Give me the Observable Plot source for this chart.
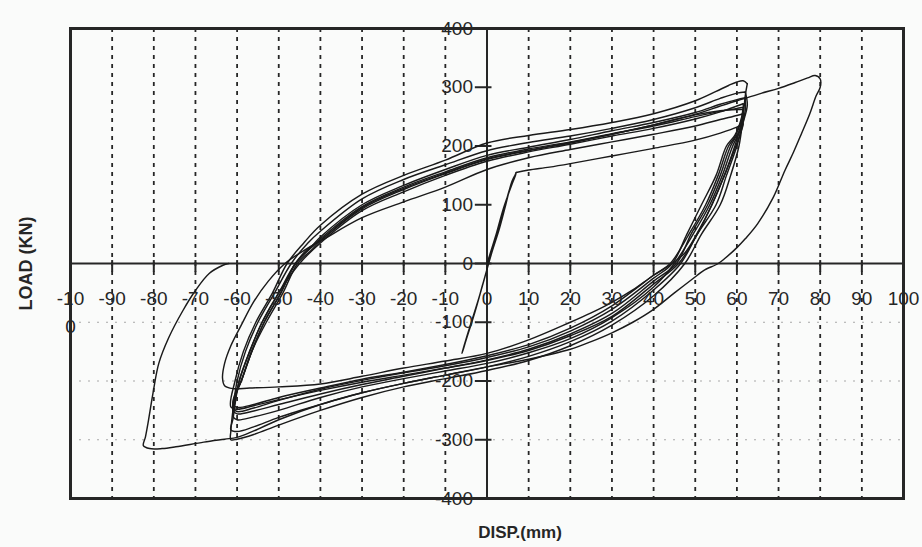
<!DOCTYPE html>
<html><head><meta charset="utf-8">
<script src="https://cdn.jsdelivr.net/npm/d3@7"></script>
<script src="https://cdn.jsdelivr.net/npm/@observablehq/plot@0.6"></script>
<style>
body{margin:0;background:#fafbfa;}
#chart{width:922px;height:547px;}
</style></head><body><div id="chart"></div>
<script>
// Tick values and labels
const xTicks = [-100,-90,-80,-70,-60,-50,-40,-30,-20,-10,0,10,20,30,40,50,60,70,80,90,100];
const xTickLabels = ["-10\n0","-90","-80","-70","-60","-50","-40","-30","-20","-10","0","10","20","30","40","50","60","70","80","90","100"];
const yTicks = [-400,-300,-200,-100,0,100,200,300,400];
const yTickLabels = ["-400","-300","-200","-100","0","100","200","300","400"];
const xGrid = [-90,-80,-70,-60,-50,-40,-30,-20,-10,10,20,30,40,50,60,70,80,90];
const yGrid = [-100,-200,-300];

// Hysteresis cycles [disp (mm), load (kN)]
const c0 = [[0,0],[2,45],[4,95],[6,135],[7,153],[6,140],[4.5,100],[3,60],[1,15],[-1,-35],[-3,-85],[-5,-130],[-6,-153],[-5.5,-140],[-4,-105],[-2,-60],[0,-10],[2,40],[4,90],[5.5,128],[7,155]];
const c1 = [[7,155],[10,159],[15,164],[20,170],[30,183],[40,196],[50,210],[56,222],[60,232],[61.5,238],[61,225],[59.5,195],[57,150],[54,100],[50.5,52],[47.5,18],[44.5,0],[40,-20],[35,-45],[30,-66],[25,-84],[20,-100],[10,-130],[0,-153],[-10,-166],[-20,-178],[-30,-192],[-40,-205],[-50,-210],[-57,-212],[-61,-213],[-63,-208],[-63.5,-195],[-63,-170],[-61.5,-140],[-59,-105],[-56,-65],[-52.5,-30],[-48.5,0],[-44,22],[-40,38],[-30,78],[-20,105],[-10,130],[0,160],[10,180],[20,194],[30,207],[40,220],[50,234],[56,245],[60,252],[61.5,255]];
const c2 = [[61.5,255],[61,235],[59.5,200],[57,150],[54,100],[50.5,50],[46,0],[40,-35],[30,-90],[20,-123],[10,-148],[0,-165],[-10,-178],[-20,-190],[-30,-202],[-40,-216],[-50,-232],[-56,-242],[-60,-248],[-61.5,-244],[-60.5,-200],[-58.5,-150],[-55.5,-100],[-51.5,-50],[-48,0],[-44,35],[-40,65],[-30,118],[-20,150],[-10,176],[0,205],[10,218],[20,228],[30,240],[40,255],[50,277],[55,293],[58,303],[60,309],[61.5,311],[62.5,306]];
const c3 = [[62.5,306],[62,285],[61.5,250],[60.5,200],[58.5,150],[56,100],[51.5,50],[47.5,0],[40,-55],[30,-105],[20,-140],[10,-165],[0,-182],[-10,-196],[-20,-210],[-30,-228],[-40,-250],[-50,-275],[-56,-291],[-60,-299],[-61.5,-300],[-61.5,-285],[-61,-250],[-60,-200],[-58,-150],[-55,-100],[-51,-50],[-47,0],[-43,35],[-40,55],[-30,110],[-20,143],[-10,168],[0,192],[10,206],[20,217],[30,230],[40,245],[50,265],[56,281],[60,290],[62,292]];
const c4 = [[62,292],[62.5,270],[61.5,240],[60,200],[57.5,150],[55,100],[50.5,50],[46.5,0],[40,-45],[30,-98],[20,-133],[10,-158],[0,-176],[-10,-190],[-20,-204],[-30,-220],[-40,-240],[-50,-262],[-56,-278],[-60,-286],[-61.5,-283],[-61,-265],[-60.5,-240],[-59.5,-200],[-57,-150],[-54,-100],[-50,-50],[-46,0],[-42,30],[-40,45],[-30,100],[-20,133],[-10,160],[0,184],[10,198],[20,211],[30,226],[40,240],[50,257],[56,271],[60,279],[62,282]];
const c5 = [[62,282],[62,260],[61,230],[59,200],[56.5,150],[53.5,100],[49.5,50],[45,0],[40,-40],[30,-92],[20,-128],[10,-152],[0,-170],[-10,-183],[-20,-196],[-30,-210],[-40,-228],[-50,-250],[-56,-261],[-60,-266],[-61,-260],[-60.5,-235],[-59.5,-200],[-57,-150],[-54,-100],[-50,-50],[-45,0],[-40,35],[-30,90],[-20,122],[-10,150],[0,174],[10,190],[20,203],[30,217],[40,230],[50,246],[56,258],[60,268],[61.5,272]];
const c6 = [[61.5,272],[61.5,250],[60.5,225],[58.5,200],[56,150],[53,100],[49,50],[45.5,0],[40,-30],[30,-85],[20,-120],[10,-146],[0,-164],[-10,-178],[-20,-192],[-30,-206],[-40,-222],[-50,-240],[-56,-251],[-60,-256],[-61,-250],[-60.5,-228],[-59,-200],[-56.5,-150],[-53.5,-100],[-49.5,-50],[-46,0],[-42,28],[-40,42],[-30,97],[-20,130],[-10,156],[0,180],[10,195],[20,207],[30,221],[40,234],[50,250],[56,259],[60,264],[61.5,266]];
const c7 = [[61.5,266],[61,245],[59.5,218],[57.5,200],[55,150],[51.5,100],[48,50],[44.5,0],[40,-25],[30,-78],[20,-115],[10,-142],[0,-160],[-10,-174],[-20,-186],[-30,-199],[-40,-214],[-50,-233],[-56,-246],[-60,-252],[-61,-246],[-60.5,-225],[-59,-200],[-56.5,-150],[-53,-100],[-49,-50],[-45.5,0],[-42,24],[-40,38],[-30,93],[-20,126],[-10,153],[0,177],[10,192],[20,205],[30,220],[40,236],[50,253],[56,260],[60,262],[61.5,262]];
const c8 = [[61.5,262],[61,242],[59.5,215],[58,200],[55.5,150],[52.5,100],[48.5,50],[44,0],[40,-20],[30,-72],[20,-110],[10,-138],[0,-157],[-10,-172],[-20,-185],[-30,-197],[-40,-212],[-50,-228],[-56,-240],[-60,-245],[-61,-240],[-60.5,-222],[-59,-200],[-56.5,-150],[-53.5,-100],[-49.5,-50],[-46,0],[-43,25],[-40,40],[-30,95],[-20,128],[-10,154],[0,178],[10,193],[20,206],[30,220],[40,236],[50,254],[56,268],[60,277],[62,281]];
const c9 = [[62,281],[66,290],[70,298],[74,308],[77,316],[78.8,320],[80,314],[80,300],[79,285],[77.5,255],[75.5,221],[73.5,188],[71.5,158],[68.7,112],[65,68],[62,42],[60,27],[57,8],[55.5,0],[52,-12],[50.5,-20],[45,-50],[40,-78],[35,-100],[30,-118],[25,-133],[20,-146],[10,-163],[0,-176],[-10,-190],[-20,-204],[-30,-220],[-40,-240],[-50,-266],[-56,-285],[-60,-296],[-63,-299],[-68,-304],[-74.7,-312],[-78,-315],[-81,-315],[-82.5,-310],[-82,-295],[-81.4,-272],[-80.2,-221],[-78.8,-170],[-76.4,-126],[-73,-80],[-70,-46],[-66.7,-17],[-63.4,-3],[-62,0]];

const cycles = [c0,c1,c2,c3,c4,c5,c6,c7,c8,c9];
const rows = cycles.flatMap((c,i)=>c.map(([x,y])=>({x,y,cycle:i})));

const ink = "#262626";
const plot = Plot.plot({
  width: 922, height: 547,
  marginLeft: 70, marginRight: 19, marginTop: 28, marginBottom: 49,
  style: {background: "#fafbfa", fontFamily: "'Liberation Sans', Arial, sans-serif", color: ink},
  x: {domain: [-100, 100], axis: null},
  y: {domain: [-400, 400], axis: null},
  marks: [
    Plot.ruleY(yGrid, {stroke: "#a8a8a8", strokeDasharray: "2,7", strokeWidth: 1}),
    Plot.ruleX(xGrid, {stroke: ink, strokeDasharray: "4,5", strokeWidth: 1.8}),
    Plot.ruleX([0], {stroke: ink, strokeWidth: 2}),
    Plot.ruleY([0], {stroke: ink, strokeWidth: 2}),
    Plot.ruleX(xTicks, {x: d => d, y1: -15, y2: 5, stroke: ink, strokeWidth: 2}),
    Plot.ruleY(yTicks, {y: d => d, x1: -2.8, x2: 1.2, stroke: ink, strokeWidth: 2}),
    Plot.line(rows, {x: "x", y: "y", z: "cycle", curve: "catmull-rom", stroke: "#1a1a1a", strokeWidth: 1.45}),
    Plot.text(xTicks, {x: d => d, y: 0, text: (d, i) => xTickLabels[i], lineAnchor: "top", lineHeight: 1.45, dy: 22, fontSize: 19, fill: ink}),
    Plot.text(yTicks, {x: 0, y: d => d, text: (d, i) => yTickLabels[i], dx: -14, textAnchor: "end", fontSize: 19, fill: ink}),
    Plot.frame({stroke: ink, strokeWidth: 3}),
    Plot.text(["DISP.(mm)"], {frameAnchor: "bottom", text: d => d, dx: 33, dy: 39, fontWeight: "bold", fontSize: 17, fill: ink}),
    Plot.text(["LOAD (KN)"], {frameAnchor: "left", text: d => d, textAnchor: "middle", rotate: -90, dx: -44, fontWeight: "bold", fontSize: 18, fill: ink})
  ]
});
document.getElementById("chart").appendChild(plot);
</script>
</body></html>
